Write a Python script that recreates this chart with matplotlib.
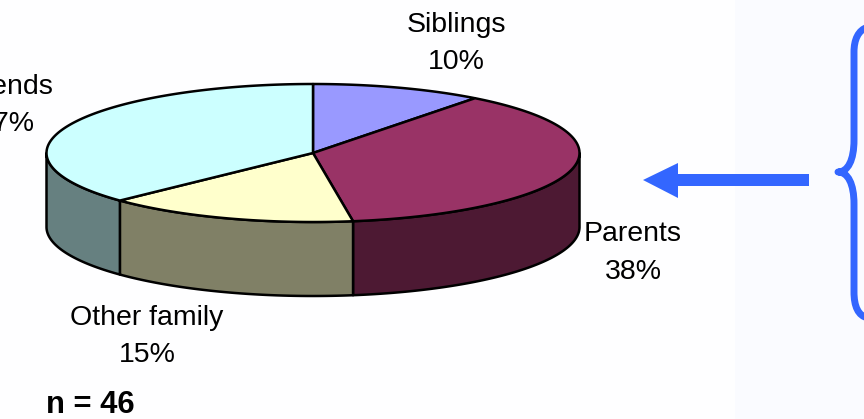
import numpy as np
import matplotlib
matplotlib.use("Agg")
import matplotlib.pyplot as plt
from matplotlib.patches import Polygon, PathPatch, Rectangle
from matplotlib.path import Path

plt.rcParams['font.family'] = ['Liberation Sans', 'DejaVu Sans']

categories = ["Siblings", "Parents", "Other family", "Friends"]
shares = [10.4, 37.2, 15.3, 37.1]
share_labels = ["10%", "38%", "15%", "37%"]
top_colors = ["#9999FF", "#993366", "#FFFFCC", "#CCFFFF"]
side_colors = ["#4D4D80", "#4D1933", "#808066", "#668080"]
label_pos = [(456, 25, 62), (633, 234, 272), (147, 318, 355), (6, 87, 124)]

W, H = 864, 419
fig = plt.figure(figsize=(W / 100, H / 100), dpi=100, facecolor="#FEFEFF")
ax = fig.add_axes([0, 0, 1, 1])
ax.set_xlim(0, W)
ax.set_ylim(H, 0)
ax.axis("off")

ax.add_patch(Rectangle((735, 0), W - 735, H, fc="#FAFBFF", ec="none", zorder=0))

cx, cy, rx, ry, depth = 313, 153, 266.5, 69, 74
lw = 1.8


def rim(t, dy=0.0):
    t = np.asarray(t)
    return np.column_stack([cx + rx * np.sin(t), cy + dy - ry * np.cos(t)])


edges = np.radians(np.concatenate([[0], np.cumsum(shares)]) * 3.6)

# side walls (only the front half of the rim is visible)
for i in range(len(shares)):
    a = max(edges[i], np.pi / 2)
    b = min(edges[i + 1], 3 * np.pi / 2)
    if a >= b:
        continue
    t = np.linspace(a, b, 120)
    pts = np.vstack([rim(t), rim(t[::-1], depth)])
    ax.add_patch(Polygon(pts, closed=True, fc=side_colors[i], ec="black",
                         lw=lw, joinstyle="round", zorder=2))

# top face
for i in range(len(shares)):
    t = np.linspace(edges[i], edges[i + 1], 200)
    pts = np.vstack([[cx, cy], rim(t)])
    ax.add_patch(Polygon(pts, closed=True, fc=top_colors[i], ec="black",
                         lw=lw, joinstyle="round", zorder=3))

# labels
for name, pct, (x, y1, y2) in zip(categories, share_labels, label_pos):
    ax.text(x, y1, name, fontsize=20.5, ha="center", va="center", color="black", zorder=5)
    ax.text(x, y2, pct, fontsize=20.5, ha="center", va="center", color="black", zorder=5)

ax.text(46, 405, "n = 46", fontsize=22.3, fontweight="bold", ha="left", va="center", zorder=5)

# arrow
blue = "#3366FF"
ax.add_patch(Polygon([(809, 174), (678, 174), (678, 163), (643, 180), (678, 198),
                      (678, 186), (809, 186)], closed=True, fc=blue, ec="none", zorder=4))

# brace
verts = [(868, 27), (858, 30), (854, 40), (854, 52),
         (854, 140),
         (854, 160), (848, 172), (838, 172),
         (848, 172), (854, 184), (854, 204),
         (854, 292),
         (854, 306), (858, 316), (868, 318)]
codes = [Path.MOVETO, Path.CURVE4, Path.CURVE4, Path.CURVE4,
         Path.LINETO,
         Path.CURVE4, Path.CURVE4, Path.CURVE4,
         Path.CURVE4, Path.CURVE4, Path.CURVE4,
         Path.LINETO,
         Path.CURVE4, Path.CURVE4, Path.CURVE4]
ax.add_patch(PathPatch(Path(verts, codes), fc="none", ec=blue, lw=5,
                       capstyle="round", joinstyle="round", zorder=4))

fig.savefig("out.png", dpi=100, facecolor=fig.get_facecolor())
